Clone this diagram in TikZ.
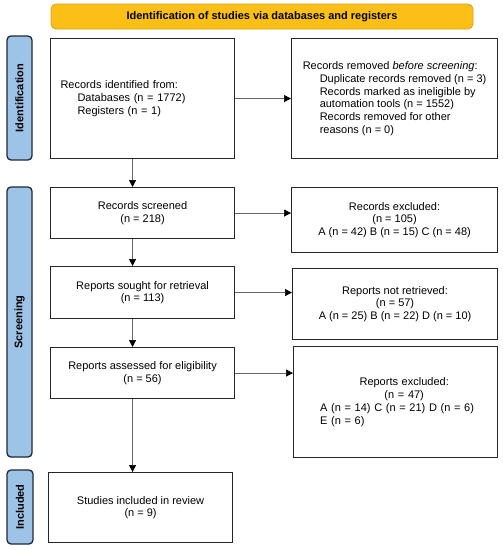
\documentclass[tikz,border=0pt]{standalone}
\usepackage{fontspec}
\setmainfont{Liberation Sans}
\usetikzlibrary{arrows.meta}
\definecolor{bannerfill}{HTML}{FBBF16}
\definecolor{bannerdraw}{HTML}{D9A21B}
\definecolor{sidefill}{HTML}{9DC3E6}
\definecolor{sidedraw}{HTML}{1F2937}
\begin{document}
\begin{tikzpicture}[x=1pt,y=-1pt,
 txt/.style={inner sep=0pt, font=\fontsize{11}{12.8}\selectfont},
 box/.style={draw=black!85, line width=1.1pt, rectangle, inner xsep=10pt, inner ysep=0pt, anchor=north west, align=center, font=\fontsize{11}{12.8}\selectfont},
 side/.style={draw=sidedraw, fill=sidefill, line width=1.3pt, rounded corners=4pt, inner sep=0pt, font=\fontsize{11}{13}\selectfont\bfseries},
 arr/.style={draw=black!60, line width=0.7pt, -{Triangle[length=7pt,width=7pt,fill=black,color=black]}}]
\useasboundingbox (0,0) rectangle (503,550);
\fill[white] (0,0) rectangle (503,550);

% banner
\node[draw=bannerdraw, fill=bannerfill, line width=0.8pt, rounded corners=5pt, minimum width=422pt, minimum height=25pt, inner sep=0pt, font=\fontsize{11}{13}\selectfont\bfseries] (banner) at (262,16.5) {Identification of studies via databases and registers};

% side bars
\node[side, rotate=90, minimum width=124pt, minimum height=25pt] (s1) at (19.5,98) {Identification};
\node[side, rotate=90, minimum width=270pt, minimum height=25pt] (s2) at (19.5,322) {Screening};
\node[side, rotate=90, minimum width=74pt, minimum height=26pt] (s3) at (20,507) {Included};

% boxes
\node[box, minimum width=184pt, minimum height=120pt, text width=164pt, align=left] (b1) at (50,38) {Records identified from:\\
\hspace*{17pt}Databases (n = 1772)\\
\hspace*{17pt}Registers (n = 1)};
\node[box, minimum width=206pt, minimum height=120pt, align=left] (b2) at (291,38) {Records removed \textit{before screening}:\\
\hspace*{17pt}Duplicate records removed (n = 3)\\
\hspace*{17pt}Records marked as ineligible by\\
\hspace*{17pt}automation tools (n = 1552)\\
\hspace*{17pt}Records removed for other\\
\hspace*{17pt}reasons (n = 0)};

\node[box, minimum width=184pt, minimum height=51pt] (b3) at (50,187) {Records screened\\(n = 218)};
\node[box, minimum width=206pt, minimum height=65pt] (b4) at (291,187) {Records excluded:\\(n = 105)\\A (n = 42) B (n = 15) C (n = 48)};

\node[box, minimum width=184pt, minimum height=52pt] (b5) at (50,266) {Reports sought for retrieval\\(n = 113)};
\node[box, minimum width=205pt, minimum height=71pt] (b6) at (292,268) {Reports not retrieved:\\(n = 57)\\A (n = 25) B (n = 22) D (n = 10)};

\node[box, minimum width=184pt, minimum height=51pt] (b7) at (50,347) {Reports assessed for eligibility\\(n = 56)};
\node[box, minimum width=204pt, minimum height=111pt] (b8) at (293,346) {};
\node[txt, anchor=west, text width=168pt, align=left] (b8t) at (320,402) {\makebox[168pt][c]{Reports excluded:}\\
\makebox[168pt][c]{(n = 47)}\\
A (n = 14) C (n = 21) D (n = 6)\\
E (n = 6)};

\node[box, minimum width=184pt, minimum height=70pt] (b9) at (48,472) {Studies included in review\\(n = 9)};

% arrows
\draw[arr] (b1.east) -- (b1.east -| b2.west);
\draw[arr] (b3.east) -- (b3.east -| b4.west);
\draw[arr] (b5.east) -- (b5.east -| b6.west);
\draw[arr] (b7.east) -- (b7.east -| b8.west);
\draw[arr] ([xshift=-10pt]b1.south) -- ([xshift=-10pt]b1.south |- b3.north);
\draw[arr] ([xshift=-10pt]b3.south) -- ([xshift=-10pt]b3.south |- b5.north);
\draw[arr] ([xshift=-10pt]b5.south) -- ([xshift=-10pt]b5.south |- b7.north);
\draw[arr] ([xshift=-10pt]b7.south) -- ([xshift=-10pt]b7.south |- b9.north);
\end{tikzpicture}
\end{document}
